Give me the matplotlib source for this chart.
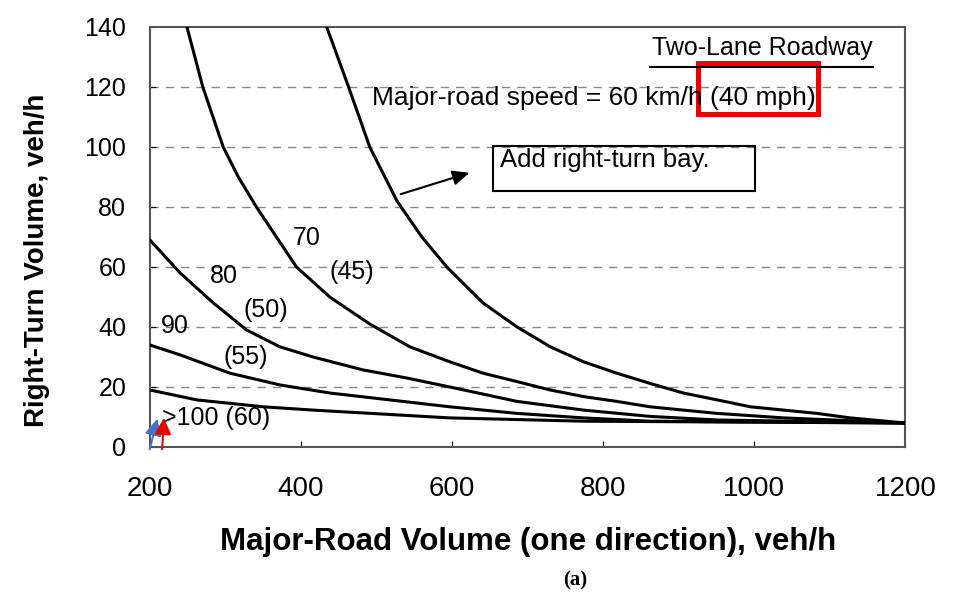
import matplotlib
matplotlib.use("Agg")
import matplotlib.pyplot as plt
from matplotlib.patches import Rectangle

plt.rcParams['font.family'] = ['Liberation Sans', 'DejaVu Sans']

# Curves: major-road volume (veh/h) vs right-turn volume (veh/h)
x_40mph = [434, 463, 491, 527, 560, 593, 641, 686, 730, 774, 818, 862, 906, 951, 995, 1039, 1083, 1127, 1200]
y_40mph = [140, 120, 100, 82, 70, 60, 48, 40, 33.4, 28.4, 24.6, 21.2, 18, 15.7, 13.4, 12.3, 11.2, 9.7, 8]

x_45mph = [249, 270, 297, 317, 341, 394, 438, 491, 544, 597, 641, 686, 730, 774, 818, 862, 906, 951, 1039, 1200]
y_45mph = [140, 120, 100, 90, 80, 60, 50, 41, 33.4, 28.4, 24.6, 21.8, 19, 16.8, 15.2, 13.4, 12.3, 11.2, 9.7, 8]

x_50mph = [200, 240, 284, 328, 372, 416, 482, 540, 597, 686, 774, 862, 951, 1200]
y_50mph = [69, 58, 48, 39, 33.4, 30, 25.7, 23, 20, 15.2, 12.3, 10.2, 9, 8]

x_55mph = [200, 240, 306, 372, 438, 597, 686, 774, 862, 1200]
y_55mph = [34, 30.7, 24.6, 20.7, 18, 13.4, 11.2, 9.7, 8.6, 8]

x_60mph = [200, 262, 350, 416, 597, 774, 1200]
y_60mph = [19, 15.7, 13.4, 12.3, 9.7, 8.6, 8]

xticks = [200, 400, 600, 800, 1000, 1200]
yticks = [0, 20, 40, 60, 80, 100, 120, 140]

fig = plt.figure(figsize=(9.55, 6.0), dpi=100)
ax = fig.add_axes([0.157, 0.255, 0.791, 0.70])

for yy in yticks[1:-1]:
    ax.axhline(yy, color='#888888', lw=1.0, ls=(0, (6, 5)), zorder=1)

for xs, ys in [(x_40mph, y_40mph), (x_45mph, y_45mph), (x_50mph, y_50mph),
               (x_55mph, y_55mph), (x_60mph, y_60mph)]:
    ax.plot(xs, ys, color='black', lw=2.2, zorder=3)

ax.set_xlim(200, 1200)
ax.set_ylim(0, 140)
ax.set_xticks(xticks)
ax.set_yticks(yticks)
ax.tick_params(direction='in', length=4)
ax.tick_params(axis='x', labelsize=20, pad=21)
ax.tick_params(axis='y', labelsize=18, pad=17)
for s in ax.spines.values():
    s.set_color('#555555')
    s.set_linewidth(1.5)

ax.set_xlabel('Major-Road Volume (one direction), veh/h', fontsize=22.5,
              fontweight='bold')
ax.xaxis.set_label_coords(0.5, -0.19)
ax.set_ylabel('Right-Turn Volume, veh/h', fontsize=20, fontweight='bold')
ax.yaxis.set_label_coords(-0.132, 0.445)

# curve labels
lbl = dict(fontsize=18, ha='center', va='center')
ax.text(408, 69.7, '70', **lbl)
ax.text(467, 58.3, '(45)', **lbl)
ax.text(298, 57, '80', **lbl)
ax.text(354, 45.7, '(50)', **lbl)
ax.text(233, 40.3, '90', **lbl)
ax.text(327, 30, '(55)', **lbl)
ax.text(216, 9.7, '>100 (60)', fontsize=18, ha='left', va='center')

ax.text(762 / 955, 1 - 48 / 600, 'Two-Lane Roadway', transform=fig.transFigure,
        fontsize=18, ha='center', va='center')
fig.add_artist(plt.Line2D([650 / 955, 873 / 955], [1 - 67 / 600] * 2, color='black', lw=1.5))
fig.text(372 / 955, 1 - 98 / 600, 'Major-road speed = 60 km/h (40 mph)', fontsize=19,
         ha='left', va='center')

fig.add_artist(Rectangle((493 / 955, 1 - 191 / 600), 262 / 955, 45 / 600,
                         transform=fig.transFigure, fill=False, lw=1.5, ec='black'))
fig.text(500 / 955, 1 - 160 / 600, 'Add right-turn bay.', fontsize=18.5, ha='left', va='center')
ax.annotate('', xy=(472 / 955, 1 - 172 / 600), xytext=(398 / 955, 1 - 195 / 600),
            xycoords='figure fraction', textcoords='figure fraction',
            arrowprops=dict(arrowstyle='-|>,head_length=1.0,head_width=0.45', color='black', lw=1.5))

fig.text(575 / 955, 1 - 580 / 600, '(a)', fontsize=15, fontweight='bold',
         family='Liberation Serif', ha='center', va='center')

# highlight box and markers
fig.add_artist(Rectangle((698 / 955, 1 - 114 / 600), 120 / 955, 51 / 600,
                         transform=fig.transFigure, fill=False, ec='#ee0000', lw=3.6))
ax.annotate('', xy=(158 / 955, 1 - 416 / 600), xytext=(149 / 955, 1 - 452 / 600),
            xycoords='figure fraction', textcoords='figure fraction',
            arrowprops=dict(arrowstyle='-|>,head_length=1.0,head_width=0.5', color='#4472c4', lw=1.5))
ax.annotate('', xy=(164 / 955, 1 - 415 / 600), xytext=(162 / 955, 1 - 452 / 600),
            xycoords='figure fraction', textcoords='figure fraction',
            arrowprops=dict(arrowstyle='-|>,head_length=1.0,head_width=0.5', color='#ee0000', lw=1.5))

fig.savefig('out.png', dpi=100)
